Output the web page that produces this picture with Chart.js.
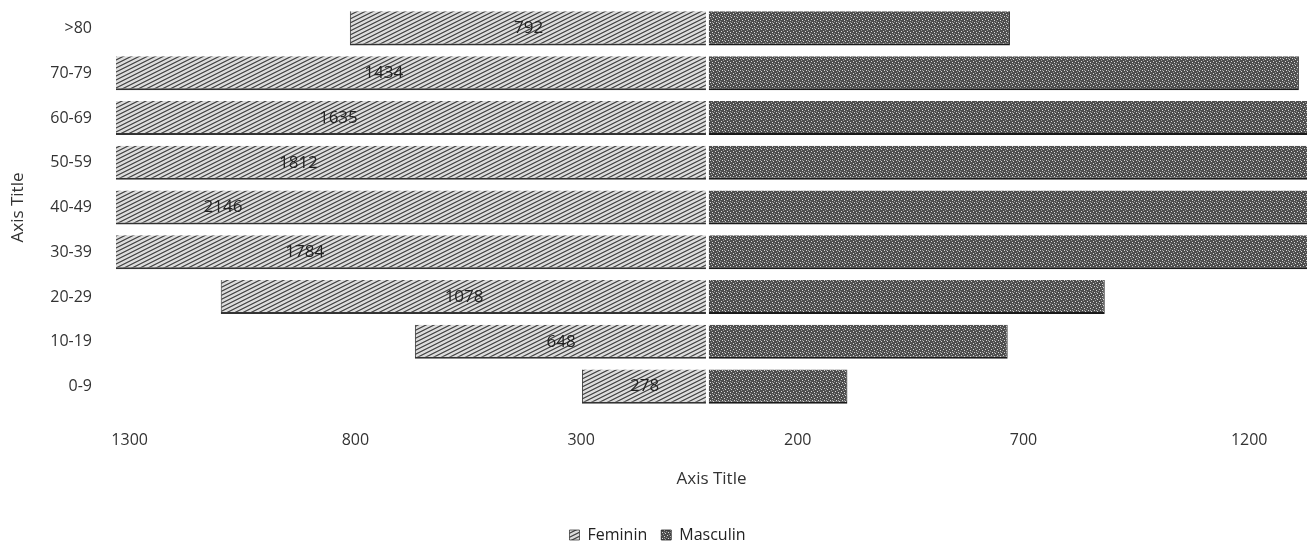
<!DOCTYPE html>
<html>
<head>
<meta charset="utf-8">
<script src="https://cdn.jsdelivr.net/npm/chart.js@4/dist/chart.umd.min.js"></script>
<style>
html,body{margin:0;padding:0;background:#fff;}
#wrap{width:1308px;height:557px;position:relative;}
</style>
</head>
<body>
<div id="wrap"><canvas id="c" width="1308" height="557"></canvas></div>
<script>
const categories = ['>80','70-79','60-69','50-59','40-49','30-39','20-29','10-19','0-9'];
const feminin = [792, 1434, 1635, 1812, 2146, 1784, 1078, 648, 278];
const masculin = [670, 1310, 1500, 1650, 1900, 1600, 880, 665, 310];
const xTicks = [-1300, -800, -300, 200, 700, 1200];

function makePattern(kind){
  const t = document.createElement('canvas');
  const ctx = t.getContext('2d');
  if(kind === 'f'){
    t.width = 8; t.height = 4;
    ctx.fillStyle = '#dcdcdc'; ctx.fillRect(0,0,8,4);
    ctx.strokeStyle = '#4a4a4a'; ctx.lineWidth = 1;
    ctx.beginPath();
    ctx.moveTo(-8,6); ctx.lineTo(8,-2);
    ctx.moveTo(0,6); ctx.lineTo(16,-2);
    ctx.moveTo(-8,10); ctx.lineTo(8,2);
    ctx.moveTo(0,2); ctx.lineTo(8,-2);
    ctx.stroke();
  } else {
    t.width = 6; t.height = 6;
    ctx.fillStyle = '#4e4e4e'; ctx.fillRect(0,0,6,6);
    ctx.fillStyle = '#d8d8d8';
    ctx.fillRect(1,1,1,1); ctx.fillRect(4,2,1,1); ctx.fillRect(2,4,1,1); ctx.fillRect(5,5,1,1);
    ctx.fillStyle = '#9a9a9a';
    ctx.fillRect(3,0,1,1); ctx.fillRect(0,3,1,1); ctx.fillRect(4,4,1,1);
  }
  return document.getElementById('c').getContext('2d').createPattern(t,'repeat');
}
const patF = makePattern('f');
const patM = makePattern('m');

const labelPlugin = {
  id: 'femLabels',
  afterDatasetsDraw(chart){
    const ctx = chart.ctx;
    const xs = chart.scales.x;
    const area = chart.chartArea;
    const x0 = xs.getPixelForValue(0);
    ctx.save();
    ctx.fillStyle = '#fff';
    ctx.fillRect(x0-1.5, area.top, 3, area.bottom-area.top);
    const meta = chart.getDatasetMeta(0);
    ctx.font = '17px "Open Sans"';
    ctx.fillStyle = '#222';
    ctx.textAlign = 'center';
    ctx.textBaseline = 'middle';
    meta.data.forEach((bar,i)=>{
      const v = feminin[i];
      const x = xs.getPixelForValue(-v/2);
      ctx.fillText(String(v), x, bar.y);
    });
    ctx.restore();
  }
};

new Chart(document.getElementById('c'), {
  type: 'bar',
  data: {
    labels: categories,
    datasets: [
      { label: 'Feminin', data: feminin.map(v=>-v), backgroundColor: patF,
        borderColor: '#333', borderWidth: {left:1, bottom:2, top:0, right:0}, borderSkipped: false,
        barPercentage: 0.76, categoryPercentage: 1, clip: 0 },
      { label: 'Masculin', data: masculin, backgroundColor: patM,
        borderColor: '#1a1a1a', borderWidth: {left:0, bottom:2, top:0, right:1}, borderSkipped: false,
        barPercentage: 0.76, categoryPercentage: 1, clip: 0 }
    ]
  },
  options: {
    indexAxis: 'y',
    responsive: false,
    animation: false,
    devicePixelRatio: 1,
    layout: { padding: { top: 6, right: 1, left: 8, bottom: 4 } },
    scales: {
      x: {
        stacked: true,
        min: -1310, max: 1328,
        afterBuildTicks(scale){ scale.ticks = xTicks.map(v=>({value:v})); },
        afterFit(scale){ scale.height = 104; },
        grid: { display: false, drawTicks: false },
        border: { display: false },
        ticks: {
          padding: 22,
          color: '#333',
          font: { family: '"Open Sans"', size: 16 },
          callback: (v)=> v < 0 ? '\u2007\u2007' + Math.abs(v) : String(v)
        },
        title: { display: true, text: 'Axis Title', color: '#333',
          font: { family: '"Open Sans"', size: 17 }, padding: { top: 10, bottom: 24 } }
      },
      y: {
        stacked: true,
        grid: { display: false, drawTicks: false },
        border: { display: false },
        ticks: { padding: 24, color: '#333', font: { family: '"Open Sans"', size: 16 } },
        title: { display: true, text: 'Axis Title', color: '#333',
          font: { family: '"Open Sans"', size: 17 }, padding: { top: 0, bottom: 4 } },
        afterFit(scale){ scale.width = 108; scale.paddingTop = 0; scale.paddingBottom = 0; }
      }
    },
    plugins: {
      legend: {
        position: 'bottom',
        labels: { boxWidth: 10, boxHeight: 10, color: '#222', padding: 14,
          font: { family: '"Open Sans"', size: 16 } }
      },
      tooltip: { enabled: false }
    }
  },
  plugins: [labelPlugin]
});
</script>
</body>
</html>
